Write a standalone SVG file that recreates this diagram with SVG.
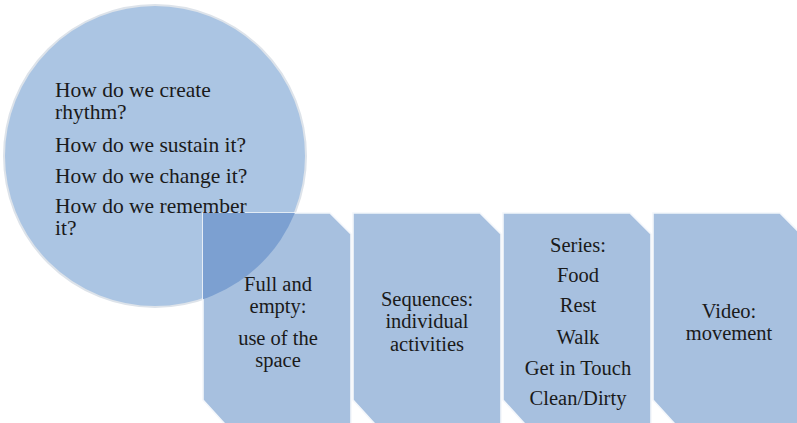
<svg xmlns="http://www.w3.org/2000/svg" xmlns:xlink="http://www.w3.org/1999/xlink" width="797" height="423" viewBox="0 0 797 423">
  <style>
    .card { fill: #A7C0DF; stroke: #F4F7FB; stroke-width: 1.6; }
    .bubble { fill: #ABC5E3; stroke: #DDE3EA; stroke-width: 2; }
    .overlap { fill: #7CA0D1; }
    .q { font-family: "Liberation Serif", "Times New Roman", serif; font-size: 21.5px; fill: #1A1A1A; }
    .t { font-family: "Liberation Serif", "Times New Roman", serif; font-size: 20.5px; fill: #1A1A1A; text-anchor: middle; }
  </style>
  <defs>
    <!-- card outline: top-right and bottom-left corners snipped -->
    <path id="cardShape" d="M0,0 H127 L148,21 V220 H30 L0,187 Z"/>
    <clipPath id="firstCardClip">
      <use xlink:href="#cardShape" x="203" y="213"/>
    </clipPath>
  </defs>

  <rect width="797" height="423" fill="#FFFFFF"/>

  <!-- question bubble -->
  <g id="questions">
    <circle class="bubble" cx="155" cy="156" r="151"/>
  </g>

  <!-- cards -->
  <g id="card-full-empty">
    <use class="card" xlink:href="#cardShape" x="203" y="213"/>
    <circle class="overlap" cx="155" cy="156" r="151" clip-path="url(#firstCardClip)"/>
    <text class="t" x="278" y="291">Full and</text>
    <text class="t" x="278" y="313">empty:</text>
    <text class="t" x="278" y="345">use of the</text>
    <text class="t" x="278" y="367">space</text>
  </g>

  <g id="card-sequences">
    <use class="card" xlink:href="#cardShape" x="353" y="213"/>
    <text class="t" x="427" y="306">Sequences:</text>
    <text class="t" x="427" y="328">individual</text>
    <text class="t" x="427" y="351">activities</text>
  </g>

  <g id="card-series">
    <use class="card" xlink:href="#cardShape" x="503" y="213"/>
    <text class="t" x="578" y="252">Series:</text>
    <text class="t" x="578" y="282">Food</text>
    <text class="t" x="578" y="312">Rest</text>
    <text class="t" x="578" y="344">Walk</text>
    <text class="t" x="578" y="375">Get in Touch</text>
    <text class="t" x="578" y="405">Clean/Dirty</text>
  </g>

  <g id="card-video">
    <use class="card" xlink:href="#cardShape" x="653" y="213"/>
    <text class="t" x="729" y="318">Video:</text>
    <text class="t" x="729" y="340">movement</text>
  </g>

  <!-- bubble text sits above the cards -->
  <g id="questions-text">
    <text class="q" x="55" y="97">How do we create</text>
    <text class="q" x="55" y="119">rhythm?</text>
    <text class="q" x="55" y="152">How do we sustain it?</text>
    <text class="q" x="55" y="183">How do we change it?</text>
    <text class="q" x="55" y="213">How do we remember</text>
    <text class="q" x="55" y="235">it?</text>
  </g>

  <g id="connectors"/>
</svg>
